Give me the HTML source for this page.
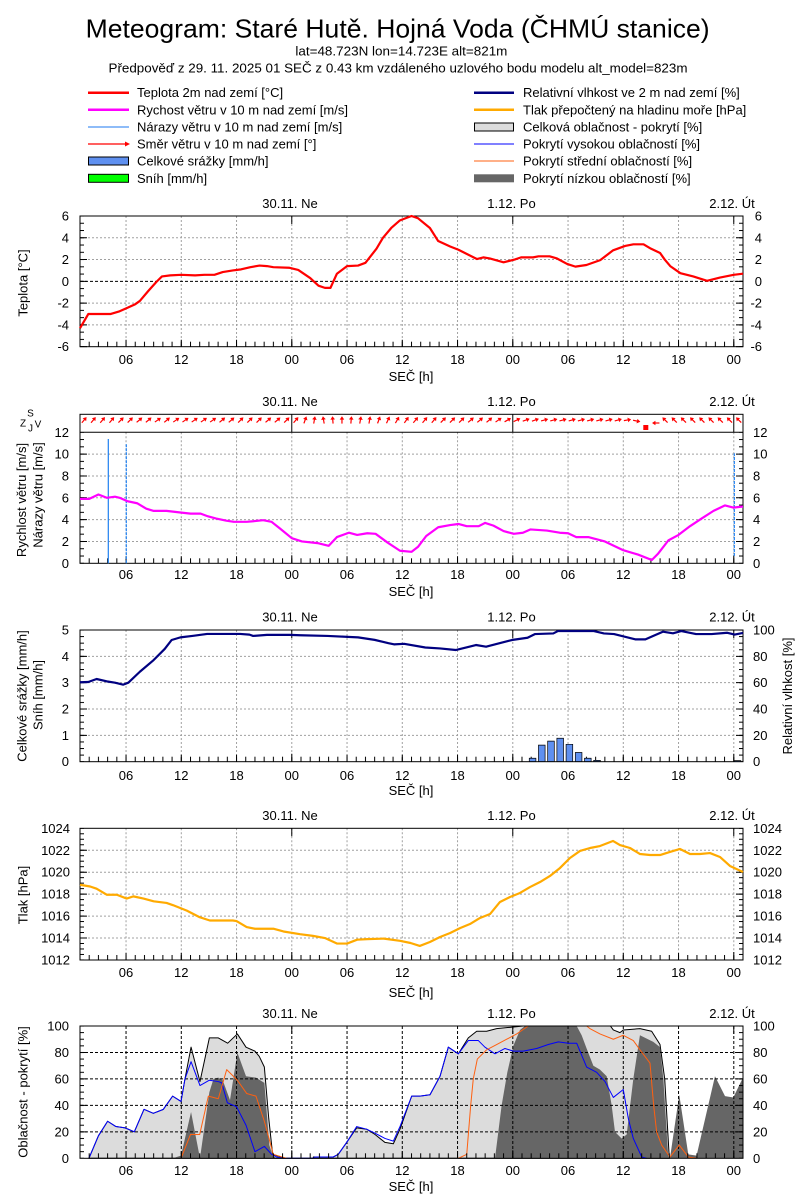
<!DOCTYPE html>
<html><head><meta charset="utf-8">
<style>
html,body{margin:0;padding:0;background:#fff}
svg{display:block}
text{font-family:"Liberation Sans",Arial,sans-serif;font-size:13px;fill:#000}
.t{font-size:26px}
.e{text-anchor:end}
.c{text-anchor:middle}
.s{font-size:10px}
.g{stroke:#a0a0a0;stroke-dasharray:2 2;fill:none;stroke-width:1}
.k{stroke:#000;fill:none;stroke-width:1}
.kd{stroke:#000;stroke-dasharray:3 2;fill:none;stroke-width:1}
</style></head><body>
<svg xmlns="http://www.w3.org/2000/svg" xmlns:xlink="http://www.w3.org/1999/xlink" width="800" height="1200" viewBox="0 0 800 1200">
<defs>
<pattern id="hx" x="79.5" y="0" width="9.208" height="10" patternUnits="userSpaceOnUse"><rect width="1" height="10" fill="#000"/></pattern>
<pattern id="y1" x="0" y="215.5" width="800" height="7.26" patternUnits="userSpaceOnUse"><rect width="800" height="1" fill="#000"/></pattern>
<pattern id="y2" x="0" y="562.8" width="800" height="7.28" patternUnits="userSpaceOnUse"><rect width="800" height="1" fill="#000"/></pattern>
<pattern id="y3" x="0" y="629.5" width="800" height="6.585" patternUnits="userSpaceOnUse"><rect width="800" height="1" fill="#000"/></pattern>
<pattern id="y4" x="0" y="827.8" width="800" height="5.485" patternUnits="userSpaceOnUse"><rect width="800" height="1" fill="#000"/></pattern>
<pattern id="y5" x="0" y="1025.5" width="800" height="6.615" patternUnits="userSpaceOnUse"><rect width="800" height="1" fill="#000"/></pattern>
<g id="ar"><path d="M-3.6 0H1.2" stroke="#f00" stroke-width="1.2"/><path d="M3.8 0L0.4 -2.3L0.4 2.3Z" fill="#f00"/></g>
</defs>
<rect width="800" height="1200" fill="#fff"/>

<!-- Header -->
<text class="t c" x="397.6" y="37.5" textLength="624" lengthAdjust="spacingAndGlyphs">Meteogram: Staré Hutě. Hojná Voda (ČHMÚ stanice)</text>
<text class="c" x="401.4" y="55.5" textLength="212" lengthAdjust="spacingAndGlyphs">lat=48.723N lon=14.723E alt=821m</text>
<text class="c" x="398" y="72.5" textLength="579" lengthAdjust="spacingAndGlyphs">Předpověď z 29. 11. 2025 01 SEČ z 0.43 km vzdáleného uzlového bodu modelu alt_model=823m</text>

<!-- Legend -->
<line x1="88" y1="92.7" x2="129" y2="92.7" stroke="#f00" stroke-width="2.5"/>
<text x="137" y="97.2">Teplota 2m nad zemí [°C]</text>
<line x1="88" y1="109.8" x2="129" y2="109.8" stroke="#f0f" stroke-width="2.5"/>
<text x="137" y="114.3">Rychost větru v 10 m nad zemí [m/s]</text>
<line x1="88" y1="127" x2="129" y2="127" stroke="#1e78f0" stroke-width="1"/>
<text x="137" y="131.5">Nárazy větru v 10 m nad zemí [m/s]</text>
<line x1="88" y1="144" x2="126" y2="144" stroke="#f00" stroke-width="1.2"/>
<path d="M130 144L125 141.5L125 146.5Z" fill="#f00"/>
<text x="137" y="148.5">Směr větru v 10 m nad zemí [°]</text>
<rect x="88.5" y="157" width="40" height="8" fill="#5f90f0" stroke="#000"/>
<text x="137" y="165.5">Celkové srážky [mm/h]</text>
<rect x="88.5" y="174.3" width="40" height="8" fill="#00ff00" stroke="#000"/>
<text x="137" y="182.8">Sníh [mm/h]</text>

<line x1="474" y1="92.7" x2="514" y2="92.7" stroke="#000080" stroke-width="2.5"/>
<text x="523" y="97.2">Relativní vlhkost ve 2 m nad zemí [%]</text>
<line x1="474" y1="109.8" x2="514" y2="109.8" stroke="#ffaa00" stroke-width="2.5"/>
<text x="523" y="114.3">Tlak přepočtený na hladinu moře [hPa]</text>
<rect x="474.5" y="123" width="39" height="8" fill="#dcdcdc" stroke="#000"/>
<text x="523" y="131.5">Celková oblačnost - pokrytí [%]</text>
<line x1="474" y1="144" x2="514" y2="144" stroke="#0000ff" stroke-width="1"/>
<text x="523" y="148.5">Pokrytí vysokou oblačností [%]</text>
<line x1="474" y1="161" x2="514" y2="161" stroke="#ff6010" stroke-width="1"/>
<text x="523" y="165.5">Pokrytí střední oblačností [%]</text>
<rect x="474" y="174.3" width="40" height="8" fill="#666"/>
<text x="523" y="182.8">Pokrytí nízkou oblačností [%]</text>

<!-- ================= PANEL 1: Temperature ================= -->
<text class="c" x="290" y="208">30.11. Ne</text>
<text class="c" x="511.5" y="208">1.12. Po</text>
<text class="c" x="732" y="208">2.12. Út</text>
<path class="g" d="M126.04 216v130.7m55.25 -130.7v130.7m55.25 -130.7v130.7m55.25 -130.7v130.7m55.25 -130.7v130.7m55.25 -130.7v130.7m55.25 -130.7v130.7m55.25 -130.7v130.7m55.25 -130.7v130.7m55.25 -130.7v130.7m55.25 -130.7v130.7m55.25 -130.7v130.7"/>
<path class="g" d="M80 237.78H743M80 259.56H743M80 303.12H743M80 324.9H743"/>
<path class="kd" d="M80 281.34H743"/>
<rect x="80" y="341.7" width="663" height="5" fill="url(#hx)"/>
<rect x="80" y="216" width="4" height="131" fill="url(#y1)"/>
<rect x="739" y="216" width="4" height="131" fill="url(#y1)"/>
<path class="k" d="M126.04 346.7v-7m55.25 7v-7m55.25 7v-7m55.25 7v-8m55.25 8v-7m55.25 7v-7m55.25 7v-7m55.25 7v-8m55.25 8v-7m55.25 7v-7m55.25 7v-7m55.25 7v-8M291.78 216v8M512.78 216v8M733.77 216v8"/>
<path class="k" d="M80 216h7M80 237.78h7M80 259.56h7M80 281.34h7M80 303.12h7M80 324.9h7M80 346.68h7M743 216h-7M743 237.78h-7M743 259.56h-7M743 281.34h-7M743 303.12h-7M743 324.9h-7M743 346.68h-7"/>
<rect class="k" x="80" y="216" width="663" height="130.7"/>
<g transform="translate(80 281.34) scale(9.208 -10.89)">
<polyline fill="none" stroke="#f00" stroke-width="2.2" stroke-linejoin="round" vector-effect="non-scaling-stroke" points="0,-4.3 0.9,-3 3.3,-3 4.3,-2.75 5.1,-2.45 6,-2.1 6.5,-1.8 7.4,-0.9 8.3,-0.05 8.9,0.45 9.8,0.55 11,0.6 12.5,0.55 13.5,0.6 14.6,0.6 15.5,0.85 16.6,1.0 17.5,1.1 18.5,1.3 19.5,1.45 20.3,1.4 21,1.3 22.7,1.25 23.7,1.05 25,0.3 25.9,-0.4 26.6,-0.6 27.2,-0.6 27.9,0.7 29,1.4 30.2,1.45 31,1.7 32.2,3.0 32.9,4.0 33.8,4.9 34.75,5.6 36,6.0 36.7,5.8 38,4.9 38.9,3.7 40.2,3.2 41.1,2.9 43.1,2.05 43.8,2.2 44.5,2.1 46,1.75 47.2,2.0 47.9,2.2 49.2,2.2 49.8,2.3 51,2.3 51.8,2.1 52.9,1.6 53.8,1.35 55,1.5 56.5,1.95 57.9,2.85 59.2,3.25 60.1,3.4 61.2,3.4 62,3.0 63,2.6 63.5,2.0 64.1,1.4 65.2,0.75 66.6,0.45 68.1,0.05 69.5,0.35 71,0.6 72,0.7"/>
</g>
<text class="e" x="69" y="220.5">6</text>
<text class="e" x="69" y="242.3">4</text>
<text class="e" x="69" y="264.1">2</text>
<text class="e" x="69" y="285.8">0</text>
<text class="e" x="69" y="307.6">-2</text>
<text class="e" x="69" y="329.4">-4</text>
<text class="e" x="69" y="351.2">-6</text>
<text class="e" x="762" y="220.5">6</text>
<text class="e" x="762" y="242.3">4</text>
<text class="e" x="762" y="264.1">2</text>
<text class="e" x="762" y="285.8">0</text>
<text class="e" x="762" y="307.6">-2</text>
<text class="e" x="762" y="329.4">-4</text>
<text class="e" x="762" y="351.2">-6</text>
<g class="c">
<text class="c" x="126.04" y="364">06</text><text class="c" x="181.29" y="364">12</text><text class="c" x="236.54" y="364">18</text><text class="c" x="291.78" y="364">00</text><text class="c" x="347.03" y="364">06</text><text class="c" x="402.28" y="364">12</text><text class="c" x="457.53" y="364">18</text><text class="c" x="512.78" y="364">00</text><text class="c" x="568.02" y="364">06</text><text class="c" x="623.27" y="364">12</text><text class="c" x="678.52" y="364">18</text><text class="c" x="733.77" y="364">00</text>
</g>
<text class="c" x="411" y="381">SEČ [h]</text>
<text class="c" transform="translate(27.5 283) rotate(-90)">Teplota [°C]</text>

<!-- ================= PANEL 2: Wind ================= -->
<text class="c" x="290" y="406">30.11. Ne</text>
<text class="c" x="511.5" y="406">1.12. Po</text>
<text class="c" x="732" y="406">2.12. Út</text>
<path class="g" d="M126.04 432.3v131m55.25 -131v131m55.25 -131v131m55.25 -131v131m55.25 -131v131m55.25 -131v131m55.25 -131v131m55.25 -131v131m55.25 -131v131m55.25 -131v131m55.25 -131v131m55.25 -131v131"/>
<path class="g" d="M80 454.1H743M80 475.94H743M80 497.78H743M80 519.62H743M80 541.46H743"/>
<path class="k" d="M80 432.26H743M291.78 414.3V432.3M512.78 414.3V432.3M733.77 414.3V432.3"/>
<rect x="80" y="558.3" width="663" height="5" fill="url(#hx)"/>
<rect x="80" y="432.3" width="4" height="131.5" fill="url(#y2)"/>
<rect x="739" y="432.3" width="4" height="131.5" fill="url(#y2)"/>
<path class="k" d="M126.04 563.3v-7m55.25 7v-7m55.25 7v-7m55.25 7v-8m55.25 8v-7m55.25 7v-7m55.25 7v-7m55.25 7v-8m55.25 8v-7m55.25 7v-7m55.25 7v-7m55.25 7v-8"/>
<path class="k" d="M80 454.1h7M80 475.94h7M80 497.78h7M80 519.62h7M80 541.46h7M743 454.1h-7M743 475.94h-7M743 497.78h-7M743 519.62h-7M743 541.46h-7"/>
<rect class="k" x="80" y="414.3" width="663" height="149"/>
<!-- gusts -->
<line x1="108.3" y1="563.3" x2="108.3" y2="439" stroke="#1e80f0" stroke-width="1.2"/>
<line x1="126.3" y1="563.3" x2="126.3" y2="444" stroke="#1e80f0" stroke-width="1.2" stroke-dasharray="3 1"/>
<line x1="734.3" y1="556" x2="734.3" y2="453.3" stroke="#1e80f0" stroke-width="1.2" stroke-dasharray="3 1"/>
<g transform="translate(80 563.3) scale(9.208 -10.92)">
<polyline fill="none" stroke="#f0f" stroke-width="2.2" stroke-linejoin="round" vector-effect="non-scaling-stroke" points="0,5.9 1,5.9 2,6.3 2.9,6.0 3.8,6.1 4.3,6.0 5.1,5.7 6.2,5.5 7.2,5.0 8,4.8 9.4,4.8 10.9,4.65 12,4.55 13.1,4.55 13.9,4.3 14.8,4.1 15.9,3.9 16.7,3.8 18.1,3.8 18.8,3.85 19.9,3.95 20.8,3.8 21.7,3.2 23,2.3 24.1,2.0 25.8,1.85 27,1.6 27.9,2.4 29.2,2.8 30.1,2.6 31.2,2.75 32.1,2.7 33.4,1.9 34.75,1.15 36,1.05 36.7,1.5 37.6,2.5 38.9,3.3 40.2,3.5 41.1,3.6 42,3.4 43.3,3.4 44,3.7 44.9,3.45 46,2.95 47.1,2.7 48.1,2.8 48.9,3.1 50.7,3.0 52.1,2.8 53,2.75 53.9,2.4 55.2,2.4 57,2.0 59,1.2 60.6,0.8 62.1,0.3 62.8,0.9 63.9,2.1 65,2.6 66.25,3.4 67.5,4.1 68.8,4.8 70.05,5.3 70.95,5.1 72,5.2"/>
</g>
<!-- wind direction arrows -->
<use xlink:href="#ar" href="#ar" transform="translate(84.14 420) rotate(-50)"/>
<use xlink:href="#ar" href="#ar" transform="translate(93.35 420) rotate(-50)"/>
<use xlink:href="#ar" href="#ar" transform="translate(102.56 420) rotate(-50)"/>
<use xlink:href="#ar" href="#ar" transform="translate(111.76 420) rotate(-50)"/>
<use xlink:href="#ar" href="#ar" transform="translate(120.97 420) rotate(-45)"/>
<use xlink:href="#ar" href="#ar" transform="translate(130.18 420) rotate(-45)"/>
<use xlink:href="#ar" href="#ar" transform="translate(139.39 420) rotate(-40)"/>
<use xlink:href="#ar" href="#ar" transform="translate(148.6 420) rotate(-40)"/>
<use xlink:href="#ar" href="#ar" transform="translate(157.8 420) rotate(-35)"/>
<use xlink:href="#ar" href="#ar" transform="translate(167.01 420) rotate(-40)"/>
<use xlink:href="#ar" href="#ar" transform="translate(176.22 420) rotate(-35)"/>
<use xlink:href="#ar" href="#ar" transform="translate(185.43 420) rotate(-35)"/>
<use xlink:href="#ar" href="#ar" transform="translate(194.64 420) rotate(-35)"/>
<use xlink:href="#ar" href="#ar" transform="translate(203.84 420) rotate(-35)"/>
<use xlink:href="#ar" href="#ar" transform="translate(213.05 420) rotate(-35)"/>
<use xlink:href="#ar" href="#ar" transform="translate(222.26 420) rotate(-40)"/>
<use xlink:href="#ar" href="#ar" transform="translate(231.47 420) rotate(-40)"/>
<use xlink:href="#ar" href="#ar" transform="translate(240.68 420) rotate(-45)"/>
<use xlink:href="#ar" href="#ar" transform="translate(249.88 420) rotate(-45)"/>
<use xlink:href="#ar" href="#ar" transform="translate(259.09 420) rotate(-45)"/>
<use xlink:href="#ar" href="#ar" transform="translate(268.3 420) rotate(-40)"/>
<use xlink:href="#ar" href="#ar" transform="translate(277.51 420) rotate(-40)"/>
<use xlink:href="#ar" href="#ar" transform="translate(286.72 420) rotate(-45)"/>
<use xlink:href="#ar" href="#ar" transform="translate(295.92 420) rotate(-50)"/>
<use xlink:href="#ar" href="#ar" transform="translate(305.13 420) rotate(-70)"/>
<use xlink:href="#ar" href="#ar" transform="translate(314.34 420) rotate(-80)"/>
<use xlink:href="#ar" href="#ar" transform="translate(323.55 420) rotate(-100)"/>
<use xlink:href="#ar" href="#ar" transform="translate(332.76 420) rotate(-95)"/>
<use xlink:href="#ar" href="#ar" transform="translate(341.96 420) rotate(-90)"/>
<use xlink:href="#ar" href="#ar" transform="translate(351.17 420) rotate(-85)"/>
<use xlink:href="#ar" href="#ar" transform="translate(360.38 420) rotate(-80)"/>
<use xlink:href="#ar" href="#ar" transform="translate(369.59 420) rotate(-80)"/>
<use xlink:href="#ar" href="#ar" transform="translate(378.8 420) rotate(-70)"/>
<use xlink:href="#ar" href="#ar" transform="translate(388.0 420) rotate(-65)"/>
<use xlink:href="#ar" href="#ar" transform="translate(397.21 420) rotate(-60)"/>
<use xlink:href="#ar" href="#ar" transform="translate(406.42 420) rotate(-55)"/>
<use xlink:href="#ar" href="#ar" transform="translate(415.63 420) rotate(-50)"/>
<use xlink:href="#ar" href="#ar" transform="translate(424.84 420) rotate(-50)"/>
<use xlink:href="#ar" href="#ar" transform="translate(434.04 420) rotate(-50)"/>
<use xlink:href="#ar" href="#ar" transform="translate(443.25 420) rotate(-45)"/>
<use xlink:href="#ar" href="#ar" transform="translate(452.46 420) rotate(-45)"/>
<use xlink:href="#ar" href="#ar" transform="translate(461.67 420) rotate(-45)"/>
<use xlink:href="#ar" href="#ar" transform="translate(470.88 420) rotate(-40)"/>
<use xlink:href="#ar" href="#ar" transform="translate(480.08 420) rotate(-40)"/>
<use xlink:href="#ar" href="#ar" transform="translate(489.29 420) rotate(-40)"/>
<use xlink:href="#ar" href="#ar" transform="translate(498.5 420) rotate(-35)"/>
<use xlink:href="#ar" href="#ar" transform="translate(507.71 420) rotate(-30)"/>
<use xlink:href="#ar" href="#ar" transform="translate(516.92 420) rotate(-25)"/>
<use xlink:href="#ar" href="#ar" transform="translate(526.12 420) rotate(-20)"/>
<use xlink:href="#ar" href="#ar" transform="translate(535.33 420) rotate(-20)"/>
<use xlink:href="#ar" href="#ar" transform="translate(544.54 420) rotate(-15)"/>
<use xlink:href="#ar" href="#ar" transform="translate(553.75 420) rotate(-15)"/>
<use xlink:href="#ar" href="#ar" transform="translate(562.96 420) rotate(-15)"/>
<use xlink:href="#ar" href="#ar" transform="translate(572.16 420) rotate(-15)"/>
<use xlink:href="#ar" href="#ar" transform="translate(581.37 420) rotate(-15)"/>
<use xlink:href="#ar" href="#ar" transform="translate(590.58 420) rotate(-15)"/>
<use xlink:href="#ar" href="#ar" transform="translate(599.79 420) rotate(-15)"/>
<use xlink:href="#ar" href="#ar" transform="translate(609.0 420) rotate(-15)"/>
<use xlink:href="#ar" href="#ar" transform="translate(618.2 420) rotate(-15)"/>
<use xlink:href="#ar" href="#ar" transform="translate(627.41 420) rotate(-10)"/>
<use xlink:href="#ar" href="#ar" transform="translate(636.62 421) rotate(12)"/>
<rect x="643.3" y="425" width="5" height="5" fill="#f00"/>
<use xlink:href="#ar" href="#ar" transform="translate(655.83 423) rotate(180)"/>
<use xlink:href="#ar" href="#ar" transform="translate(665.04 420) rotate(-135)"/>
<use xlink:href="#ar" href="#ar" transform="translate(674.25 420) rotate(-135)"/>
<use xlink:href="#ar" href="#ar" transform="translate(683.46 420) rotate(-135)"/>
<use xlink:href="#ar" href="#ar" transform="translate(692.67 420) rotate(-135)"/>
<use xlink:href="#ar" href="#ar" transform="translate(701.88 420) rotate(-135)"/>
<use xlink:href="#ar" href="#ar" transform="translate(711.08 420) rotate(-135)"/>
<use xlink:href="#ar" href="#ar" transform="translate(720.29 420) rotate(-135)"/>
<use xlink:href="#ar" href="#ar" transform="translate(729.5 420) rotate(-135)"/>
<use xlink:href="#ar" href="#ar" transform="translate(738.71 420) rotate(-135)"/>
<text class="e" x="69" y="436.8">12</text>
<text class="e" x="69" y="458.6">10</text>
<text class="e" x="69" y="480.4">8</text>
<text class="e" x="69" y="502.3">6</text>
<text class="e" x="69" y="524.1">4</text>
<text class="e" x="69" y="546">2</text>
<text class="e" x="69" y="567.8">0</text>
<text x="753" y="436.8">12</text>
<text x="753" y="458.6">10</text>
<text x="753" y="480.4">8</text>
<text x="753" y="502.3">6</text>
<text x="753" y="524.1">4</text>
<text x="753" y="546">2</text>
<text x="753" y="567.8">0</text>
<text class="s c" x="30.5" y="416.5">S</text>
<text class="s c" x="23" y="426.5">Z</text>
<text class="s c" x="38" y="427.5">V</text>
<text class="s c" x="30.5" y="431.5">J</text>
<text class="c" x="126.04" y="579">06</text><text class="c" x="181.29" y="579">12</text><text class="c" x="236.54" y="579">18</text><text class="c" x="291.78" y="579">00</text><text class="c" x="347.03" y="579">06</text><text class="c" x="402.28" y="579">12</text><text class="c" x="457.53" y="579">18</text><text class="c" x="512.78" y="579">00</text><text class="c" x="568.02" y="579">06</text><text class="c" x="623.27" y="579">12</text><text class="c" x="678.52" y="579">18</text><text class="c" x="733.77" y="579">00</text>
<text class="c" x="411" y="596">SEČ [h]</text>
<text class="c" transform="translate(26 500) rotate(-90)">Rychlost větru [m/s]</text>
<text class="c" transform="translate(42.5 495) rotate(-90)">Nárazy větru [m/s]</text>

<!-- ================= PANEL 3: Precip + RH ================= -->
<text class="c" x="290" y="621.5">30.11. Ne</text>
<text class="c" x="511.5" y="621.5">1.12. Po</text>
<text class="c" x="732" y="621.5">2.12. Út</text>
<path class="g" d="M126.04 630v131.7m55.25 -131.7v131.7m55.25 -131.7v131.7m55.25 -131.7v131.7m55.25 -131.7v131.7m55.25 -131.7v131.7m55.25 -131.7v131.7m55.25 -131.7v131.7m55.25 -131.7v131.7m55.25 -131.7v131.7m55.25 -131.7v131.7m55.25 -131.7v131.7"/>
<path class="g" d="M80 656.34H743M80 682.68H743M80 709.02H743M80 735.36H743"/>
<rect x="80" y="756.7" width="663" height="5" fill="url(#hx)"/>
<rect x="80" y="630" width="4" height="132" fill="url(#y3)"/>
<rect x="739" y="630" width="4" height="132" fill="url(#y3)"/>
<path class="k" d="M126.04 761.7v-7m55.25 7v-7m55.25 7v-7m55.25 7v-8m55.25 8v-7m55.25 7v-7m55.25 7v-7m55.25 7v-8m55.25 8v-7m55.25 7v-7m55.25 7v-7m55.25 7v-8M291.78 630v8M512.78 630v8M733.77 630v8"/>
<path class="k" d="M80 656.34h7M80 682.68h7M80 709.02h7M80 735.36h7M743 656.34h-7M743 682.68h-7M743 709.02h-7M743 735.36h-7"/>
<g transform="translate(80 761.7) scale(9.208 -26.34)" fill="#5f90f0" stroke="#000" stroke-width="0.7">
<rect x="48.79" y="0" width="0.72" height="0.13" vector-effect="non-scaling-stroke"/>
<rect x="49.79" y="0" width="0.72" height="0.63" vector-effect="non-scaling-stroke"/>
<rect x="50.79" y="0" width="0.72" height="0.78" vector-effect="non-scaling-stroke"/>
<rect x="51.79" y="0" width="0.72" height="0.89" vector-effect="non-scaling-stroke"/>
<rect x="52.79" y="0" width="0.72" height="0.66" vector-effect="non-scaling-stroke"/>
<rect x="53.79" y="0" width="0.72" height="0.35" vector-effect="non-scaling-stroke"/>
<rect x="54.79" y="0" width="0.72" height="0.13" vector-effect="non-scaling-stroke"/>
<rect x="55.79" y="0" width="0.72" height="0.05" vector-effect="non-scaling-stroke"/>
<rect x="71.05" y="0" width="0.72" height="0.04" vector-effect="non-scaling-stroke"/>
</g>
<rect class="k" x="80" y="630" width="663" height="131.7"/>
<g transform="translate(80 761.7) scale(9.208 -1.317)">
<polyline fill="none" stroke="#000080" stroke-width="2.2" stroke-linejoin="round" vector-effect="non-scaling-stroke" points="0,60.3 0.9,60.5 1.8,62.8 2.9,61 3.8,60 4.7,58.5 5.25,60 6.5,68.3 8,77.2 9.2,85.6 9.95,92.4 10.9,94.4 12.3,95.6 13.8,97 17.4,97 18.4,96.5 18.8,95.5 20.3,96.3 22.8,96.3 23.9,96 26.9,95.5 30.2,94.4 32,92.5 33.5,90 34.1,89.1 35.2,89.5 37.5,86.7 39.1,86 40.8,84.8 43,88.6 44.1,87.3 46.9,92.4 48.6,94.1 49.4,96.9 51.4,97.4 51.9,99.2 55.8,99.2 56.9,97.4 58,96.9 60.3,92.9 61.4,92.9 63.3,98.7 64.4,97.5 65.3,99.2 66.9,96.9 68.6,96.9 70.3,97.9 71.1,96.5 72,97.8"/>
</g>
<text class="e" x="69" y="634.5">5</text>
<text class="e" x="69" y="660.8">4</text>
<text class="e" x="69" y="687.2">3</text>
<text class="e" x="69" y="713.5">2</text>
<text class="e" x="69" y="739.9">1</text>
<text class="e" x="69" y="766.2">0</text>
<text x="753" y="634.5">100</text>
<text x="753" y="660.8">80</text>
<text x="753" y="687.2">60</text>
<text x="753" y="713.5">40</text>
<text x="753" y="739.9">20</text>
<text x="753" y="766.2">0</text>
<text class="c" x="126.04" y="780">06</text><text class="c" x="181.29" y="780">12</text><text class="c" x="236.54" y="780">18</text><text class="c" x="291.78" y="780">00</text><text class="c" x="347.03" y="780">06</text><text class="c" x="402.28" y="780">12</text><text class="c" x="457.53" y="780">18</text><text class="c" x="512.78" y="780">00</text><text class="c" x="568.02" y="780">06</text><text class="c" x="623.27" y="780">12</text><text class="c" x="678.52" y="780">18</text><text class="c" x="733.77" y="780">00</text>
<text class="c" x="411" y="795">SEČ [h]</text>
<text class="c" transform="translate(26.5 696) rotate(-90)">Celkové srážky [mm/h]</text>
<text class="c" transform="translate(42.5 695) rotate(-90)">Sníh [mm/h]</text>
<text class="c" transform="translate(792 696) rotate(-90)">Relativní vlhkost [%]</text>

<!-- ================= PANEL 4: Pressure ================= -->
<text class="c" x="290" y="820">30.11. Ne</text>
<text class="c" x="511.5" y="820">1.12. Po</text>
<text class="c" x="732" y="820">2.12. Út</text>
<path class="g" d="M126.04 828.3v131.7m55.25 -131.7v131.7m55.25 -131.7v131.7m55.25 -131.7v131.7m55.25 -131.7v131.7m55.25 -131.7v131.7m55.25 -131.7v131.7m55.25 -131.7v131.7m55.25 -131.7v131.7m55.25 -131.7v131.7m55.25 -131.7v131.7m55.25 -131.7v131.7"/>
<path class="g" d="M80 850.3H743M80 872.24H743M80 894.18H743M80 916.12H743M80 938.06H743"/>
<rect x="80" y="955" width="663" height="5" fill="url(#hx)"/>
<rect x="80" y="828.3" width="4" height="132.2" fill="url(#y4)"/>
<rect x="739" y="828.3" width="4" height="132.2" fill="url(#y4)"/>
<path class="k" d="M126.04 960v-7m55.25 7v-7m55.25 7v-7m55.25 7v-8m55.25 8v-7m55.25 7v-7m55.25 7v-7m55.25 7v-8m55.25 8v-7m55.25 7v-7m55.25 7v-7m55.25 7v-8M291.78 828.3v8M512.78 828.3v8M733.77 828.3v8"/>
<path class="k" d="M80 850.3h7M80 872.24h7M80 894.18h7M80 916.12h7M80 938.06h7M743 850.3h-7M743 872.24h-7M743 894.18h-7M743 916.12h-7M743 938.06h-7"/>
<rect class="k" x="80" y="828.3" width="663" height="131.7"/>
<g transform="translate(80 960) scale(9.208 -10.97)">
<polyline fill="none" stroke="#ffaa00" stroke-width="2.2" stroke-linejoin="round" vector-effect="non-scaling-stroke" points="0,6.86 1.1,6.7 1.8,6.5 2.9,5.95 4,5.95 5.07,5.6 5.8,5.8 6.9,5.6 8,5.35 9.4,5.2 10.1,5.0 11.6,4.5 13,3.9 14.1,3.6 16.6,3.6 17,3.55 18.1,3.0 19,2.85 21,2.85 22.1,2.6 23.9,2.35 25.3,2.2 26.6,2.0 27.9,1.5 29,1.5 30.1,1.85 31.2,1.9 33,1.95 34.75,1.75 35.9,1.55 36.9,1.28 38,1.64 39.1,2.1 40.2,2.46 41.3,2.92 42.35,3.28 43.44,3.83 44.53,4.19 45.61,5.29 46.7,5.74 47.78,6.11 48.87,6.65 49.96,7.11 51.04,7.66 52.13,8.39 53.21,9.3 54.3,9.94 55.39,10.21 56.47,10.39 57.88,10.85 58.64,10.48 59.73,10.21 60.82,9.66 61.9,9.57 62.99,9.57 64.07,9.85 65.16,10.12 66.25,9.66 67.33,9.66 68.42,9.75 69.5,9.39 70.59,8.57 72,8.02"/>
</g>
<text class="e" x="70" y="832.8">1024</text>
<text class="e" x="70" y="854.8">1022</text>
<text class="e" x="70" y="876.7">1020</text>
<text class="e" x="70" y="898.7">1018</text>
<text class="e" x="70" y="920.6">1016</text>
<text class="e" x="70" y="942.6">1014</text>
<text class="e" x="70" y="964.5">1012</text>
<text x="753" y="832.8">1024</text>
<text x="753" y="854.8">1022</text>
<text x="753" y="876.7">1020</text>
<text x="753" y="898.7">1018</text>
<text x="753" y="920.6">1016</text>
<text x="753" y="942.6">1014</text>
<text x="753" y="964.5">1012</text>
<text class="c" x="126.04" y="977">06</text><text class="c" x="181.29" y="977">12</text><text class="c" x="236.54" y="977">18</text><text class="c" x="291.78" y="977">00</text><text class="c" x="347.03" y="977">06</text><text class="c" x="402.28" y="977">12</text><text class="c" x="457.53" y="977">18</text><text class="c" x="512.78" y="977">00</text><text class="c" x="568.02" y="977">06</text><text class="c" x="623.27" y="977">12</text><text class="c" x="678.52" y="977">18</text><text class="c" x="733.77" y="977">00</text>
<text class="c" x="411" y="997">SEČ [h]</text>
<text class="c" transform="translate(27.5 895) rotate(-90)">Tlak [hPa]</text>

<!-- ================= PANEL 5: Clouds ================= -->
<text class="c" x="290" y="1018">30.11. Ne</text>
<text class="c" x="511.5" y="1018">1.12. Po</text>
<text class="c" x="732" y="1018">2.12. Út</text>
<g transform="translate(80 1158.3) scale(9.208 -1.323)">
<polygon fill="#dcdcdc" stroke="#000" stroke-width="1" stroke-linejoin="round" vector-effect="non-scaling-stroke" points="0.97,0 2.0,17 3.0,28 3.9,24 4.9,23 5.9,20 6.95,37 7.96,34 9.05,37 10.06,47 10.97,43 11.4,60 12.06,84 13.03,58 14.05,91 15.02,91 16.04,87 17.09,94 18.03,84 19.0,81 19.47,77 20.02,69 20.5,30 20.92,3 21.36,2 22.3,0 25.34,0 25.34,1 27.51,1 28.05,3 28.96,12 30.05,23 31.13,22 32.04,18 33.12,12 34.03,11 34.75,22 36.02,47 36.92,47 38.01,48 39.1,62 40.0,84 41.09,79 42.17,91 43.08,96 44.16,96 45.25,98 46.7,99 48.14,100 57.6,100 57.92,97 58.64,95 59.0,97 60.81,98 62.08,96 62.99,86 63.5,60 64.0,0"/>
<polygon fill="#666" points="10.06,0 10.97,2 12.06,35 13.03,0 14.05,50 14.5,60 15.02,61 15.5,59 16.29,44 17.09,80 18.03,62 19.11,61 20.02,57 20.56,10 20.92,2 21.36,0"/>
<polygon fill="#666" points="45.07,0 45.79,40 46.41,65 47.06,85 47.78,97 48.32,100 53.94,100 54.48,93 55.02,83 55.75,70 56.47,67 57.2,62 57.74,40 58.1,20 58.82,15 59.37,18 60.09,60 60.81,93 62.26,88 62.99,84 63.35,60 63.89,0 64.07,0 65.08,48 66.06,3 66.96,2 68.96,62 70.05,47 70.95,46 72,61 72,0"/>
</g>
<path class="kd" d="M126.04 1026v132.3m55.25 -132.3v132.3m55.25 -132.3v132.3m55.25 -132.3v132.3m55.25 -132.3v132.3m55.25 -132.3v132.3m55.25 -132.3v132.3m55.25 -132.3v132.3m55.25 -132.3v132.3m55.25 -132.3v132.3m55.25 -132.3v132.3m55.25 -132.3v132.3"/>
<path class="kd" d="M80 1052.46H743M80 1078.92H743M80 1105.38H743M80 1131.84H743"/>
<g transform="translate(80 1158.3) scale(9.208 -1.323)">
<polyline fill="none" stroke="#0000ff" stroke-width="1" stroke-linejoin="round" vector-effect="non-scaling-stroke" points="0.97,0 2.0,17 3.0,28 3.9,24 4.9,23 5.9,20 6.95,37 7.96,34 9.05,37 10.06,47 10.97,43 11.4,60 12.06,73 13.03,55 14.05,59 15.02,58 15.4,57 16.0,42 17.0,39 18.03,25 19.0,5 20.02,9 20.81,3 21.36,1 22.08,0 25.34,0 25.5,1 27.51,1 28.05,3 28.96,12 30.05,24 31.13,22 32.04,19 33.12,15 34.03,13 34.75,24 36.02,47 36.92,47 38.01,48 39.1,62 40.0,84 41.09,79 42.17,89 43.26,89 43.98,84 45.07,79 46.15,83 47.06,81 48.14,81 49.6,83 50.86,86 51.95,88 53.04,87 53.94,87 55.02,69 56.11,65 57.02,58 57.92,46 59.0,52 59.55,30 60.09,15 61.0,1 61.54,0"/>
<polyline fill="none" stroke="#ff6010" stroke-width="1" stroke-linejoin="round" vector-effect="non-scaling-stroke" points="10.97,0 12.0,18 13.0,18 13.94,47 15.02,45 15.93,67 17.09,59 18.1,49 19.11,47 20.02,28 20.99,3 22.44,0"/>
<polyline fill="none" stroke="#ff6010" stroke-width="1" stroke-linejoin="round" vector-effect="non-scaling-stroke" points="41.09,0 42.0,3 42.43,40 42.71,60 43.15,75 44.16,82 45.25,86 46.34,90 47.42,94 48.69,100 55.02,100 55.39,98 56.47,94 57.92,90 59.0,93 60.09,89 60.81,82 61.9,72 62.3,40 62.62,20 63.17,10 64.07,1 65.08,10 66.06,1 66.96,0"/>
</g>
<rect x="80" y="1153.3" width="663" height="5" fill="url(#hx)"/>
<rect x="80" y="1026" width="4" height="132.5" fill="url(#y5)"/>
<rect x="739" y="1026" width="4" height="132.5" fill="url(#y5)"/>
<path class="k" d="M126.04 1158.3v-7m55.25 7v-7m55.25 7v-7m55.25 7v-8m55.25 8v-7m55.25 7v-7m55.25 7v-7m55.25 7v-8m55.25 8v-7m55.25 7v-7m55.25 7v-7m55.25 7v-8M291.78 1026v8M512.78 1026v8M733.77 1026v8"/>
<path class="k" d="M80 1052.46h7M80 1078.92h7M80 1105.38h7M80 1131.84h7M743 1052.46h-7M743 1078.92h-7M743 1105.38h-7M743 1131.84h-7"/>
<rect class="k" x="80" y="1026" width="663" height="132.3"/>
<text class="e" x="69" y="1030.5">100</text>
<text class="e" x="69" y="1057">80</text>
<text class="e" x="69" y="1083.4">60</text>
<text class="e" x="69" y="1109.9">40</text>
<text class="e" x="69" y="1136.3">20</text>
<text class="e" x="69" y="1162.8">0</text>
<text x="753" y="1030.5">100</text>
<text x="753" y="1057">80</text>
<text x="753" y="1083.4">60</text>
<text x="753" y="1109.9">40</text>
<text x="753" y="1136.3">20</text>
<text x="753" y="1162.8">0</text>
<text class="c" x="126.04" y="1175">06</text><text class="c" x="181.29" y="1175">12</text><text class="c" x="236.54" y="1175">18</text><text class="c" x="291.78" y="1175">00</text><text class="c" x="347.03" y="1175">06</text><text class="c" x="402.28" y="1175">12</text><text class="c" x="457.53" y="1175">18</text><text class="c" x="512.78" y="1175">00</text><text class="c" x="568.02" y="1175">06</text><text class="c" x="623.27" y="1175">12</text><text class="c" x="678.52" y="1175">18</text><text class="c" x="733.77" y="1175">00</text>
<text class="c" x="411" y="1191">SEČ [h]</text>
<text class="c" transform="translate(27.5 1092) rotate(-90)">Oblačnost - pokrytí [%]</text>
</svg>
</body></html>
